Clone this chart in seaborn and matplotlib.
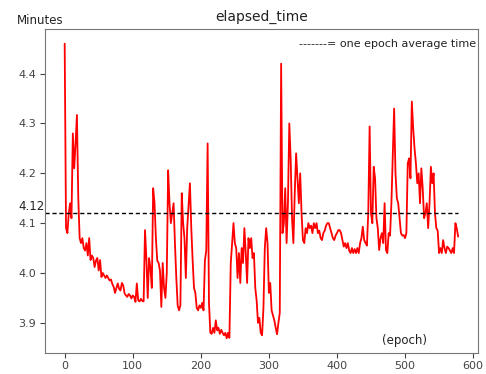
import numpy as np
import pandas as pd
import matplotlib
matplotlib.use("Agg")
import matplotlib.pyplot as plt
import seaborn as sns

# Per-epoch training time in minutes, logged every 2 epochs
epoch_step = 2
elapsed_minutes = [
    4.46, 4.09, 4.08, 4.12, 4.14, 4.11, 4.28, 4.21, 4.26, 4.317,
    4.15, 4.07, 4.06, 4.07, 4.05, 4.045, 4.06, 4.035, 4.07, 4.026,
    4.035, 4.03, 4.012, 4.025, 4.03, 4.005, 4.026, 3.992, 4.0, 3.995,
    3.99, 3.995, 3.99, 3.985, 3.987, 3.978, 3.972, 3.96, 3.97, 3.979,
    3.968, 3.965, 3.98, 3.975, 3.959, 3.955, 3.952, 3.958, 3.955, 3.949,
    3.955, 3.952, 3.942, 3.979, 3.945, 3.943, 3.948, 3.944, 3.943, 4.086,
    4.03, 3.95, 4.03, 4.01, 3.97, 4.17, 4.14, 4.07, 4.025, 4.02,
    4.005, 3.932, 4.02, 3.97, 3.95, 4.0, 4.206, 4.14, 4.10, 4.12,
    4.14, 4.06, 3.99, 3.935, 3.925, 3.935, 4.16, 4.10, 4.07, 3.99,
    4.09, 4.135, 4.18, 4.09, 4.025, 3.97, 3.96, 3.93, 3.925, 3.935,
    3.93, 3.94, 3.925, 4.025, 4.045, 4.26, 3.94, 3.88, 3.878, 3.89,
    3.88, 3.905, 3.885, 3.89, 3.878, 3.886, 3.88, 3.875, 3.88, 3.869,
    3.88, 3.87, 4.02, 4.06, 4.10, 4.06, 4.05, 3.99, 4.04, 3.98,
    4.05, 4.02, 4.09, 4.04, 3.98, 4.07, 4.05, 4.07, 4.03, 4.04,
    3.97, 3.945, 3.90, 3.91, 3.88, 3.875, 3.93, 4.05, 4.09, 4.06,
    3.96, 3.98, 3.925, 3.915, 3.905, 3.89, 3.877, 3.90, 3.92, 4.42,
    4.08, 4.10, 4.17, 4.06, 4.14, 4.30, 4.23, 4.11, 4.06, 4.16,
    4.24, 4.19, 4.14, 4.20, 4.12, 4.066, 4.06, 4.09, 4.08, 4.10,
    4.09, 4.095, 4.08, 4.10, 4.09, 4.10, 4.08, 4.085, 4.07, 4.066,
    4.08, 4.085, 4.095, 4.10, 4.10, 4.09, 4.08, 4.07, 4.066, 4.075,
    4.08, 4.086, 4.086, 4.08, 4.066, 4.053, 4.06, 4.05, 4.06, 4.045,
    4.04, 4.05, 4.04, 4.048, 4.04, 4.05, 4.04, 4.06, 4.07, 4.093,
    4.066, 4.06, 4.055, 4.12, 4.294, 4.12, 4.10, 4.213, 4.19, 4.11,
    4.09, 4.046, 4.07, 4.08, 4.06, 4.14, 4.046, 4.04, 4.08, 4.075,
    4.14, 4.233, 4.33, 4.20, 4.15, 4.14, 4.11, 4.08, 4.075, 4.076,
    4.07, 4.08, 4.22, 4.23, 4.19, 4.344, 4.29, 4.25, 4.22, 4.18,
    4.20, 4.14, 4.21, 4.17, 4.11, 4.12, 4.14, 4.09, 4.14, 4.213,
    4.18, 4.20, 4.12, 4.09, 4.085, 4.04, 4.05, 4.04, 4.066, 4.05,
    4.04, 4.053, 4.05, 4.045, 4.04, 4.05, 4.04, 4.10, 4.09, 4.073,
]
epochs = np.arange(len(elapsed_minutes)) * epoch_step
average_minutes = 4.12

y_ticks = [3.9, 4.0, 4.1, 4.2, 4.3, 4.4]
x_ticks = [0, 100, 200, 300, 400, 500, 600]

df = pd.DataFrame({"epoch": epochs, "minutes": elapsed_minutes})

sns.set_theme(style="ticks")
plt.rcParams["font.family"] = ["DejaVu Sans"]

fig = plt.figure(figsize=(4.86, 3.74), dpi=100)
ax = fig.add_axes([0.0926, 0.0561, 0.8905, 0.8664])

sns.lineplot(data=df, x="epoch", y="minutes", color="red", linewidth=1.3, ax=ax)
ax.margins(x=0.05, y=0.05)
xl = ax.get_xlim()
ax.hlines(average_minutes, xl[0], epochs[-1], colors="black",
          linestyles=(0, (3, 2)), linewidth=1.0)
ax.set_xlim(xl)

ax.set_xticks(x_ticks)
ax.set_yticks(y_ticks)
ax.set_yticklabels([f"{v:.1f}" for v in y_ticks])
ax.tick_params(labelsize=8, colors="#444444", length=3.5, width=0.8, pad=2)
ax.tick_params(axis="y", pad=3)
for s in ax.spines.values():
    s.set_color("#777777")
    s.set_linewidth(0.8)
ax.set_xlabel("")
ax.set_ylabel("")

ax.set_title("elapsed_time", fontsize=10, color="#222222", pad=6)
fig.text(0.035, 0.945, "Minutes", fontsize=8.5, color="#222222",
         ha="left", va="center")
ax.text(-0.062, average_minutes, f"{average_minutes:.2f}",
        transform=ax.get_yaxis_transform(), fontsize=8.5, color="#222222",
        ha="left", va="bottom")
ax.text(0.997, 0.955, "-------= one epoch average time", transform=ax.transAxes,
        fontsize=8, color="#222222", ha="right", va="center")
ax.text(0.83, 0.04, "(epoch)", transform=ax.transAxes, fontsize=8.5,
        color="#222222", ha="center", va="center")

fig.savefig("out.png", dpi=100)
